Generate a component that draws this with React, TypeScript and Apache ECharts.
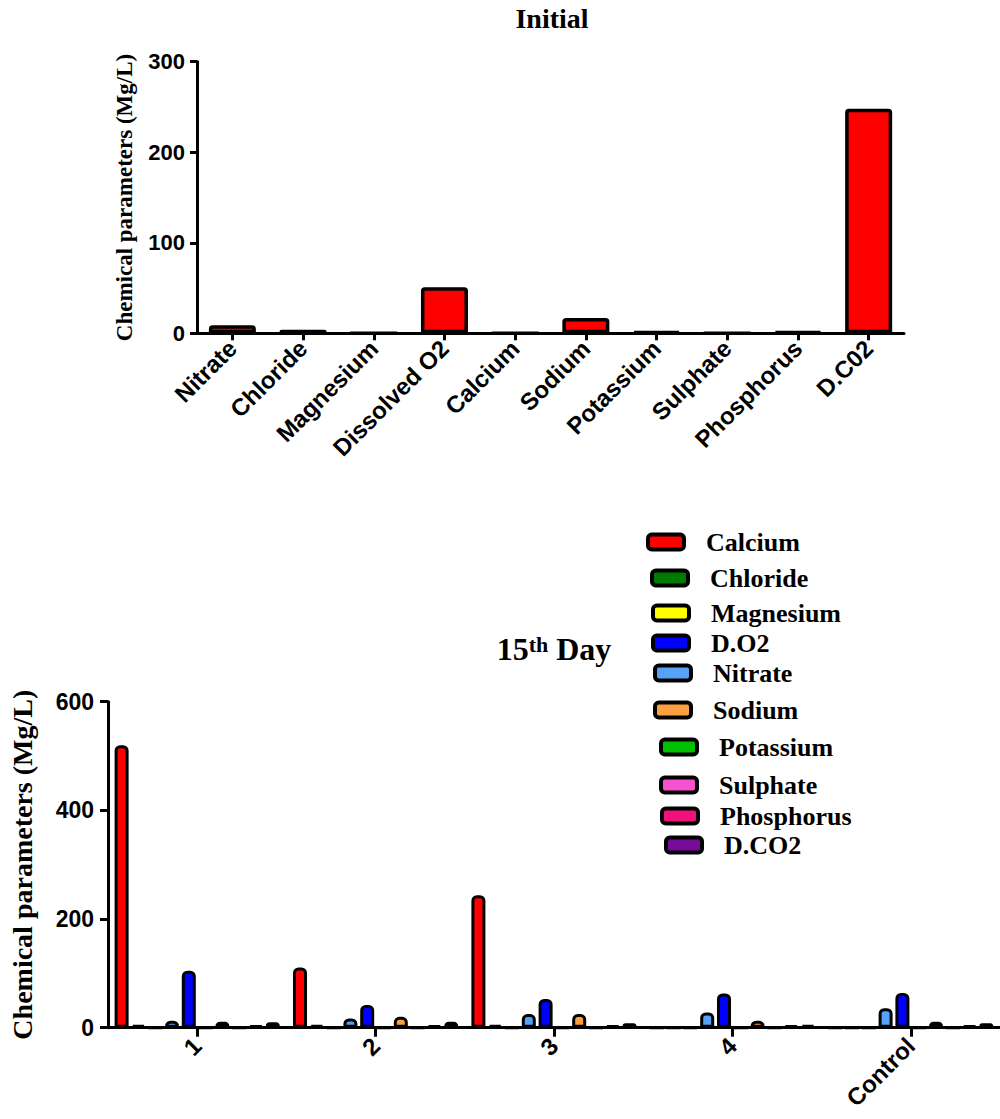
import React, { useEffect, useRef } from "react";
import * as echarts from "echarts";

// ---------- Data ----------
const initialCategories = [
  "Nitrate", "Chloride", "Magnesium", "Dissolved O2", "Calcium",
  "Sodium", "Potassium", "Sulphate", "Phosphorus", "D.C02",
];
const initialValues = [9, 4, 0, 51, 0, 17, 2, 0, 2, 248];

const dayCategories = ["1", "2", "3", "4", "Control"];
const calcium = [520, 111, 244, 0, 0];
const chloride = [5, 5, 5, 0, 0];
const magnesium = [0, 0, 0, 0, 0];
const nitrate = [13, 17, 25, 28, 36];
const dO2 = [105, 42, 53, 63, 64];
const potassium = [0, 0, 0, 0, 0];
const sodium = [11, 20, 25, 13, 11];
const sulphate = [0, 0, 0, 0, 0];
const phosphorus = [4, 4, 4, 4, 4];
const dCO2 = [10, 11, 8, 5, 8];

const initialTicks = [0, 100, 200, 300];
const dayTicks = [0, 200, 400, 600];

// bar order as drawn in each group
const daySeries = [
  { name: "Calcium", data: calcium, color: "#ff0000" },
  { name: "Chloride", data: chloride, color: "#007a00" },
  { name: "Magnesium", data: magnesium, color: "#ffff00" },
  { name: "Nitrate", data: nitrate, color: "#55a2f8" },
  { name: "D.O2", data: dO2, color: "#0000ff" },
  { name: "Potassium", data: potassium, color: "#00c000" },
  { name: "Sodium", data: sodium, color: "#ffa040" },
  { name: "Sulphate", data: sulphate, color: "#f552d2" },
  { name: "Phosphorus", data: phosphorus, color: "#f0127a" },
  { name: "D.CO2", data: dCO2, color: "#780a9a" },
];

// legend order
const legendNames = [
  "Calcium", "Chloride", "Magnesium", "D.O2", "Nitrate",
  "Sodium", "Potassium", "Sulphate", "Phosphorus", "D.CO2",
];
// legend layout: [icon left, icon center y]
const legendLayout = [
  [646, 542], [650, 578], [651, 613], [651, 643], [653, 673],
  [653, 710], [659, 747], [659, 785], [660, 816], [664, 845],
];

const SANS = "'Liberation Sans', Arial, sans-serif";
const SERIF = "'Liberation Serif', 'Times New Roman', serif";

export default function App() {
  const ref = useRef<HTMLDivElement>(null);

  useEffect(() => {
    document.body.style.margin = "0";
    const chart = echarts.init(ref.current!, null, { renderer: "svg" });

    const axisLine = { show: true, lineStyle: { color: "#000", width: 3 } };
    const tick = (len: number) => ({
      show: true,
      length: len,
      lineStyle: { color: "#000", width: 3 },
    });
    const tickLabel = (size: number, margin: number) => ({
      fontFamily: SANS,
      fontWeight: "bold" as const,
      fontSize: size,
      color: "#000",
      margin,
    });

    const option: any = {
      animation: false,
      backgroundColor: "#fff",
      title: [
        {
          text: "Initial",
          left: 552,
          top: 4,
          textAlign: "center",
          padding: 0,
          textStyle: { fontFamily: SERIF, fontWeight: "bold", fontSize: 28, color: "#000" },
        },
        {
          text: "{n|15}{s|th}{n| Day}",
          left: 554,
          top: 633,
          textAlign: "center",
          padding: 0,
          textStyle: {
            rich: {
              n: { fontFamily: SERIF, fontWeight: "bold", fontSize: 32, color: "#000" },
              s: { fontFamily: SERIF, fontWeight: "bold", fontSize: 22, color: "#000", verticalAlign: "top" },
            },
          },
        },
      ],
      legend: legendNames.map((name, i) => ({
        data: [name],
        left: legendLayout[i][0],
        top: legendLayout[i][1] - 13,
        padding: 0,
        selectedMode: false,
        icon: "roundRect",
        itemWidth: 36,
        itemHeight: 15,
        itemStyle: { borderColor: "#000", borderWidth: 4 },
        textStyle: {
          fontFamily: SERIF,
          fontWeight: "bold",
          fontSize: 26,
          lineHeight: 26,
          color: "#000",
          padding: [0, 0, 0, 17],
        },
      })),
      grid: [
        { left: 197, top: 61.7, width: 707, height: 271.6 },
        { left: 107, top: 701.7, width: 893, height: 326 },
      ],
      xAxis: [
        {
          type: "category",
          gridIndex: 0,
          data: initialCategories,
          axisLine,
          axisTick: { ...tick(7), alignWithLabel: true },
          axisLabel: { ...tickLabel(24, 11), rotate: 45, interval: 0 },
        },
        {
          type: "category",
          gridIndex: 1,
          data: dayCategories,
          axisLine,
          axisTick: { ...tick(9), alignWithLabel: true },
          axisLabel: { ...tickLabel(24, 14), rotate: 45, interval: 0 },
        },
      ],
      yAxis: [
        {
          type: "value",
          gridIndex: 0,
          min: initialTicks[0],
          max: initialTicks[initialTicks.length - 1],
          interval: initialTicks[1] - initialTicks[0],
          axisLine,
          axisTick: tick(7),
          axisLabel: tickLabel(22, 12),
          splitLine: { show: false },
          name: "Chemical parameters (Mg/L)",
          nameLocation: "middle",
          nameRotate: 90,
          nameGap: 61,
          nameTextStyle: { fontFamily: SERIF, fontWeight: "bold", fontSize: 23, color: "#000" },
        },
        {
          type: "value",
          gridIndex: 1,
          min: dayTicks[0],
          max: dayTicks[dayTicks.length - 1],
          interval: dayTicks[1] - dayTicks[0],
          axisLine,
          axisTick: tick(8),
          axisLabel: tickLabel(23, 14),
          splitLine: { show: false },
          name: "Chemical parameters (Mg/L)",
          nameLocation: "middle",
          nameRotate: 90,
          nameGap: 72,
          nameTextStyle: { fontFamily: SERIF, fontWeight: "bold", fontSize: 28, color: "#000" },
        },
      ],
      series: [
        {
          name: "Initial",
          type: "bar",
          xAxisIndex: 0,
          yAxisIndex: 0,
          data: initialValues,
          barWidth: 47,
          itemStyle: {
            color: "#ff0000",
            borderColor: "#000",
            borderWidth: 3.5,
            borderRadius: [2, 2, 0, 0],
          },
        },
        ...daySeries.map((s) => ({
          name: s.name,
          type: "bar",
          xAxisIndex: 1,
          yAxisIndex: 1,
          data: s.data,
          barWidth: 14,
          barGap: "20%",
          itemStyle: {
            color: s.color,
            borderColor: "#000",
            borderWidth: 3,
            borderRadius: [4, 4, 0, 0],
          },
        })),
      ],
    };

    chart.setOption(option);
    return () => chart.dispose();
  }, []);

  return <div ref={ref} style={{ width: 1000, height: 1119 }} />;
}
